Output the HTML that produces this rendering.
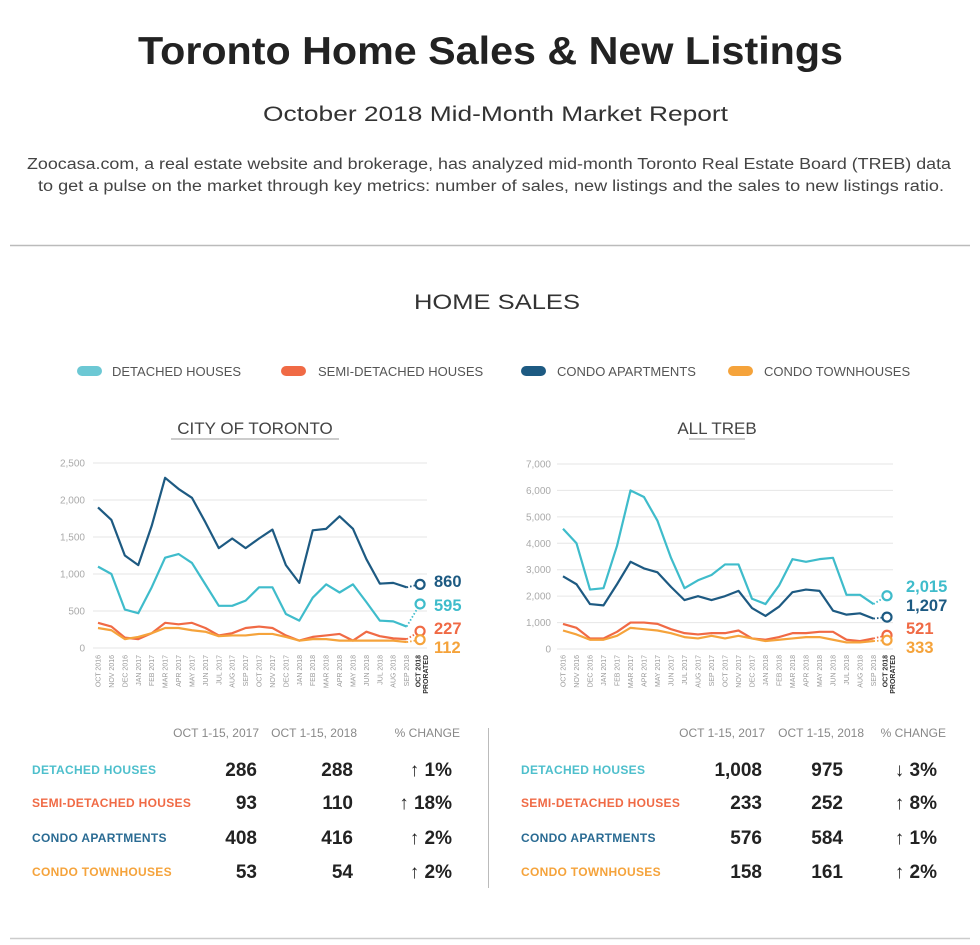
<!DOCTYPE html>
<html><head><meta charset="utf-8"><style>
html,body{margin:0;padding:0;background:#fff;}
svg{display:block;font-family:"Liberation Sans",sans-serif;}
</style></head><body>
<svg id="s" width="980" height="945" viewBox="0 0 980 945" xmlns="http://www.w3.org/2000/svg">
<text x="138" y="64" font-size="39" fill="#222" font-weight="bold" textLength="705" lengthAdjust="spacingAndGlyphs">Toronto Home Sales &amp; New Listings</text>
<text x="263" y="121" font-size="21" fill="#333" textLength="465" lengthAdjust="spacingAndGlyphs">October 2018 Mid-Month Market Report</text>
<text x="27" y="169" font-size="15.5" fill="#444" textLength="924" lengthAdjust="spacingAndGlyphs">Zoocasa.com, a real estate website and brokerage, has analyzed mid-month Toronto Real Estate Board (TREB) data</text>
<text x="38" y="191" font-size="15.5" fill="#444" textLength="906" lengthAdjust="spacingAndGlyphs">to get a pulse on the market through key metrics: number of sales, new listings and the sales to new listings ratio.</text>
<line x1="10" y1="245.5" x2="970" y2="245.5" stroke="#bbb" stroke-width="1.5"/>
<text x="414" y="309" font-size="21" fill="#333" textLength="166" lengthAdjust="spacingAndGlyphs">HOME SALES</text>
<g font-size="13" fill="#555">
<rect x="77" y="366" width="25" height="10" rx="5" fill="#6cc8d4"/><text x="112" y="376">DETACHED HOUSES</text>
<rect x="281" y="366" width="25" height="10" rx="5" fill="#f06a45"/><text x="318" y="376">SEMI-DETACHED HOUSES</text>
<rect x="521" y="366" width="25" height="10" rx="5" fill="#1d5a82"/><text x="557" y="376">CONDO APARTMENTS</text>
<rect x="728" y="366" width="25" height="10" rx="5" fill="#f5a33b"/><text x="764" y="376">CONDO TOWNHOUSES</text>
</g>
<text x="255" y="434" text-anchor="middle" font-size="17" fill="#444">CITY OF TORONTO</text>
<line x1="171" y1="439" x2="339" y2="439" stroke="#999" stroke-width="1"/>
<text x="717" y="434" text-anchor="middle" font-size="17" fill="#444">ALL TREB</text>
<line x1="689" y1="439" x2="745" y2="439" stroke="#999" stroke-width="1"/>
<g id="charts"></g>
<g font-size="12" fill="#888" text-anchor="end">
<text x="259" y="737">OCT 1-15, 2017</text><text x="357" y="737">OCT 1-15, 2018</text><text x="460" y="737">% CHANGE</text>
<text x="765" y="737">OCT 1-15, 2017</text><text x="864" y="737">OCT 1-15, 2018</text><text x="946" y="737">% CHANGE</text>
</g>
<line x1="488.5" y1="728" x2="488.5" y2="888" stroke="#bbb"/>
<g font-size="12" font-weight="bold" letter-spacing="0.3">
<text x="32" y="774" fill="#4dbfcc">DETACHED HOUSES</text>
<text x="32" y="807" fill="#f06a45">SEMI-DETACHED HOUSES</text>
<text x="32" y="842" fill="#2a6b93">CONDO APARTMENTS</text>
<text x="32" y="876" fill="#f5a33b">CONDO TOWNHOUSES</text>
<text x="521" y="774" fill="#4dbfcc">DETACHED HOUSES</text>
<text x="521" y="807" fill="#f06a45">SEMI-DETACHED HOUSES</text>
<text x="521" y="842" fill="#2a6b93">CONDO APARTMENTS</text>
<text x="521" y="876" fill="#f5a33b">CONDO TOWNHOUSES</text>
</g>
<g font-size="19" fill="#222" text-anchor="end" font-weight="bold">
<text x="257" y="776">286</text><text x="353" y="776">288</text><text x="452" y="776">↑ 1%</text>
<text x="257" y="809">93</text><text x="353" y="809">110</text><text x="452" y="809">↑ 18%</text>
<text x="257" y="844">408</text><text x="353" y="844">416</text><text x="452" y="844">↑ 2%</text>
<text x="257" y="878">53</text><text x="353" y="878">54</text><text x="452" y="878">↑ 2%</text>
<text x="762" y="776">1,008</text><text x="843" y="776">975</text><text x="937" y="776">↓ 3%</text>
<text x="762" y="809">233</text><text x="843" y="809">252</text><text x="937" y="809">↑ 8%</text>
<text x="762" y="844">576</text><text x="843" y="844">584</text><text x="937" y="844">↑ 1%</text>
<text x="762" y="878">158</text><text x="843" y="878">161</text><text x="937" y="878">↑ 2%</text>
</g>
<line x1="10" y1="938.5" x2="970" y2="938.5" stroke="#ccc" stroke-width="1.5"/>
</svg>
<script>
var NS="http://www.w3.org/2000/svg",G=document.getElementById("charts");
function el(t,a,txt){var e=document.createElementNS(NS,t);for(var k in a)e.setAttribute(k,a[k]);if(txt!=null)e.textContent=txt;G.appendChild(e);return e;}
var months=["OCT 2016","NOV 2016","DEC 2016","JAN 2017","FEB 2017","MAR 2017","APR 2017","MAY 2017","JUN 2017","JUL 2017","AUG 2017","SEP 2017","OCT 2017","NOV 2017","DEC 2017","JAN 2018","FEB 2018","MAR 2018","APR 2018","MAY 2018","JUN 2018","JUL 2018","AUG 2018","SEP 2018"];
var C={t:"#3fbccb",d:"#1d5a82",r:"#f06a45",o:"#f5a33b"};
function chart(o){
 for(var i=0;i<=o.n;i++){var y=o.y0-i*(o.y0-o.ytop)/o.n;
  el("line",{x1:o.gx1,y1:y,x2:o.gx2,y2:y,stroke:"#e6e6e6","stroke-width":1});
  el("text",{x:o.lx,y:y+3.5,"font-size":10,fill:"#aaa","text-anchor":"end"},(i*o.step).toLocaleString("en-US"));}
 function X(i){return o.x0+i*o.dx;} function Y(v){return o.y0-v/o.max*(o.y0-o.ytop);}
 for(var i=0;i<24;i++){el("text",{transform:"translate("+(X(i)+2.5)+",655) rotate(-90)","font-size":7,fill:"#999","text-anchor":"end"},months[i]);}
 el("text",{transform:"translate("+(X(24)+0.5)+",655) rotate(-90)","font-size":7,fill:"#333","font-weight":"bold","text-anchor":"end"},"OCT 2018");
 el("text",{transform:"translate("+(X(24)+8)+",655) rotate(-90)","font-size":7,fill:"#333","font-weight":"bold","text-anchor":"end"},"PRORATED");
 ["r","o","t","d"].forEach(function(k){var d=o.s[k],p=[];
  for(var i=0;i<24;i++)p.push(X(i)+","+Y(d[i]));
  el("polyline",{points:p.join(" "),fill:"none",stroke:C[k],"stroke-width":2.2,"stroke-linejoin":"round"});
  el("line",{x1:X(23),y1:Y(d[23]),x2:X(24),y2:Y(d[24]),stroke:C[k],"stroke-width":1.8,"stroke-dasharray":"1.5,2"});
  el("circle",{cx:X(24),cy:Y(d[24]),r:4.5,fill:"#fff",stroke:C[k],"stroke-width":2.2});
 });
 o.labels.forEach(function(l){el("text",{x:o.tx,y:l[1],"font-size":16.5,fill:C[l[0]],"font-weight":"bold"},l[2]);});
}
chart({y0:648,ytop:463,n:5,step:500,max:2500,gx1:93,gx2:427,lx:85,x0:98,dx:13.42,tx:434,
 s:{d:[1900,1730,1250,1120,1650,2300,2150,2030,1700,1350,1480,1350,1480,1600,1120,880,1590,1610,1780,1610,1200,870,880,820,860],
 t:[1100,1000,520,470,820,1220,1270,1150,860,570,570,640,820,820,460,370,680,860,750,860,620,370,360,290,595],
 r:[340,290,140,120,200,340,320,340,270,170,200,270,290,270,170,100,150,170,190,100,220,160,130,120,227],
 o:[270,240,120,150,200,270,270,240,220,160,170,170,190,190,150,100,120,120,100,100,100,100,100,80,112]},
 labels:[["d",587,"860"],["t",611,"595"],["r",634,"227"],["o",653,"112"]]});
chart({y0:649,ytop:464,n:7,step:1000,max:7000,gx1:557,gx2:893,lx:551,x0:563,dx:13.5,tx:906,
 s:{t:[4550,4000,2250,2300,3900,6000,5750,4850,3450,2300,2600,2800,3200,3200,1900,1700,2400,3400,3300,3400,3450,2050,2050,1700,2015],
 d:[2750,2450,1700,1650,2450,3300,3050,2900,2350,1850,2000,1850,2000,2200,1550,1250,1600,2150,2250,2200,1450,1300,1350,1150,1207],
 r:[950,800,400,400,650,1000,1000,950,750,600,550,600,600,700,400,350,450,600,600,650,650,350,300,400,521],
 o:[700,550,350,350,500,800,750,700,600,450,400,500,400,500,400,300,350,400,450,450,350,250,250,300,333]},
 labels:[["t",592,"2,015"],["d",611,"1,207"],["r",634,"521"],["o",653,"333"]]});
</script>
</body></html>
